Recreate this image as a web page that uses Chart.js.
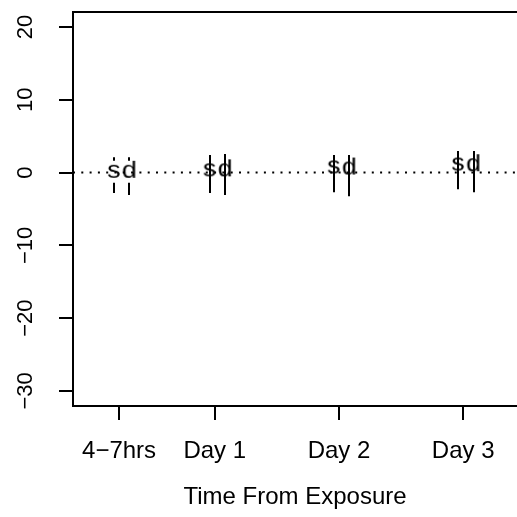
<!DOCTYPE html>
<html>
<head>
<meta charset="utf-8">
<script src="https://cdn.jsdelivr.net/npm/chart.js@4.4.0/dist/chart.umd.min.js"></script>
<style>
  html, body { margin: 0; padding: 0; background: #fff; }
  #wrap { width: 517px; height: 517px; }
</style>
</head>
<body>
<div id="wrap"><canvas id="chart" width="517" height="517"></canvas></div>
<script>
// x positions are hours since exposure
const tickHours = [5.5, 24, 48, 72];
const tickLabels = ['4\u22127hrs', 'Day 1', 'Day 2', 'Day 3'];
const yTicks = [-30, -20, -10, 0, 10, 20];

const sHours = [4.5, 23, 47, 71];
const sMean = [0.1, 0.3, 0.7, 1.1];
const sHigh = [2.1, 2.4, 2.4, 2.95];
const sLow = [-2.8, -2.8, -2.7, -2.3];

const dHours = [7.5, 26, 50, 74];
const dMean = [0.1, 0.3, 0.55, 1.0];
const dHigh = [2.1, 2.55, 2.4, 2.95];
const dLow = [-3.1, -3.1, -3.25, -2.7];

const FONT = '"Liberation Sans", Arial, Helvetica, sans-serif';
const xMin = -3.4, xMax = 82.4;
// gap (px) left around the letter on the first group only
const gapPx = [11, 0, 0, 0];

function letterIcon(ch) {
  const c = document.createElement('canvas');
  c.width = 30; c.height = 40;
  const g = c.getContext('2d');
  g.fillStyle = '#000';
  g.font = '24px ' + FONT;
  g.textAlign = 'center';
  g.textBaseline = 'alphabetic';
  g.scale(1.12, 1);
  g.fillText(ch, 15 / 1.12, 20 + 6.3);
  return c;
}

const errorBars = {
  id: 'errorBars',
  afterDatasetsDraw(chart) {
    const { ctx, scales: { x, y } } = chart;
    ctx.save();
    ctx.strokeStyle = '#000';
    ctx.lineWidth = 2;
    [[sHours, sMean, sLow, sHigh], [dHours, dMean, dLow, dHigh]].forEach(([hrs, mean, lo, hi]) => {
      hrs.forEach((h, i) => {
        const px = Math.round(x.getPixelForValue(h));
        const yHi = y.getPixelForValue(hi[i]);
        const yLo = y.getPixelForValue(lo[i]);
        const yM = y.getPixelForValue(mean[i]);
        ctx.beginPath();
        ctx.moveTo(px, yHi); ctx.lineTo(px, yM - gapPx[i]);
        ctx.moveTo(px, yM + gapPx[i]); ctx.lineTo(px, yLo);
        ctx.stroke();
      });
    });
    ctx.restore();
  },
  afterDraw(chart) {
    const { ctx, chartArea, scales: { y } } = chart;
    ctx.save();
    // top edge of the box
    ctx.strokeStyle = '#000';
    ctx.lineWidth = 2;
    ctx.beginPath();
    ctx.moveTo(chartArea.left, chartArea.top);
    ctx.lineTo(chartArea.right, chartArea.top);
    ctx.stroke();
    // rotated y tick labels (R style)
    ctx.fillStyle = '#000';
    ctx.font = '22px ' + FONT;
    ctx.textAlign = 'center';
    ctx.textBaseline = 'middle';
    yTicks.forEach(v => {
      ctx.save();
      ctx.translate(26, y.getPixelForValue(v));
      ctx.rotate(-Math.PI / 2);
      ctx.fillText(v < 0 ? '\u2212' + Math.abs(v) : String(v), 0, 0);
      ctx.restore();
    });
    ctx.restore();
  }
};

new Chart(document.getElementById('chart'), {
  type: 'scatter',
  data: {
    datasets: [
      {
        label: 's',
        data: sHours.map((h, i) => ({ x: h, y: sMean[i] })),
        pointStyle: letterIcon('s'),
        order: 1
      },
      {
        label: 'd',
        data: dHours.map((h, i) => ({ x: h, y: dMean[i] })),
        pointStyle: letterIcon('d'),
        order: 1
      },
      {
        type: 'line',
        label: 'zero',
        data: [{ x: xMin, y: 0 }, { x: xMax, y: 0 }],
        borderColor: '#000',
        borderWidth: 2,
        borderDash: [2, 6.3],
        pointRadius: 0,
        order: 2
      }
    ]
  },
  options: {
    responsive: false,
    animation: false,
    layout: { autoPadding: false, padding: { top: 12, right: 0, left: 0, bottom: 0 } },
    plugins: { legend: { display: false }, tooltip: { enabled: false } },
    scales: {
      x: {
        type: 'linear',
        min: xMin,
        max: xMax,
        afterBuildTicks: s => { s.ticks = tickHours.map(v => ({ value: v })); },
        afterFit: s => { s.height = 111; s.paddingLeft = 0; s.paddingRight = 0; },
        grid: { display: true, drawOnChartArea: false, drawTicks: true, tickLength: 14, color: '#000', lineWidth: 2 },
        border: { display: true, color: '#000', width: 2 },
        ticks: {
          color: '#000',
          font: { family: FONT, size: 24 },
          padding: 17,
          maxRotation: 0,
          autoSkip: false,
          callback: (v, i) => tickLabels[i]
        },
        title: {
          display: true,
          text: 'Time From Exposure',
          color: '#000',
          font: { family: FONT, size: 24 },
          padding: { top: 0, bottom: 5 }
        }
      },
      y: {
        type: 'linear',
        min: -32.07,
        max: 22.05,
        afterBuildTicks: s => { s.ticks = yTicks.map(v => ({ value: v })); },
        afterFit: s => { s.width = 73; },
        grid: { display: true, drawOnChartArea: false, drawTicks: true, tickLength: 14, color: '#000', lineWidth: 2 },
        border: { display: true, color: '#000', width: 2 },
        ticks: { display: false }
      }
    }
  },
  plugins: [errorBars]
});
</script>
</body>
</html>
